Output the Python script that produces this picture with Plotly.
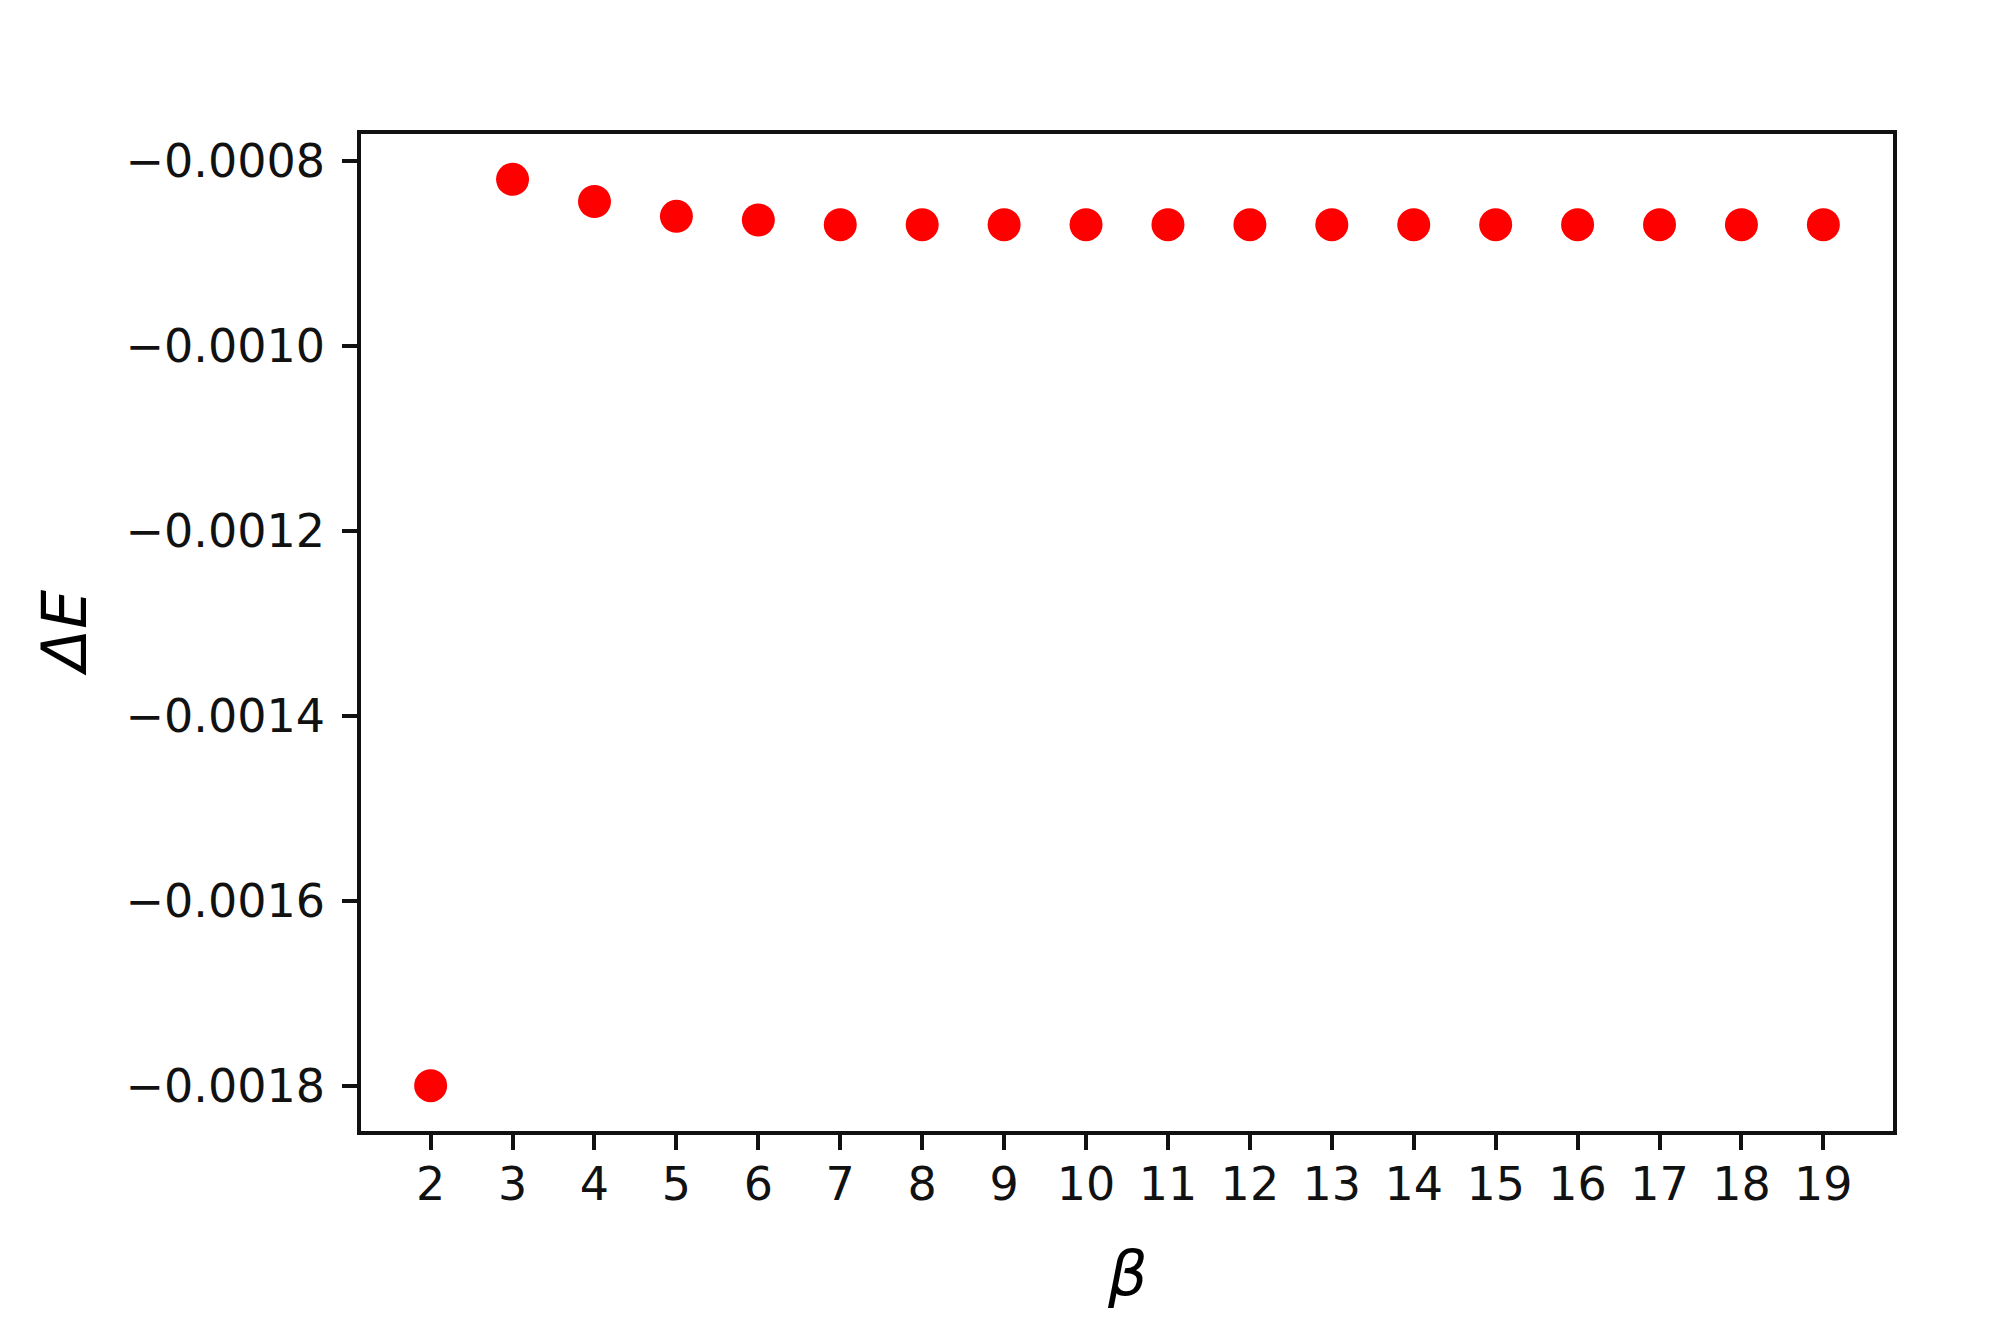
import plotly.graph_objects as go

# beta values and energy differences
beta = list(range(2, 20))
delta_e = [-0.00180, -0.000820, -0.000844, -0.000860, -0.000864,
           -0.000869, -0.000869, -0.000869, -0.000869, -0.000869,
           -0.000869, -0.000869, -0.000869, -0.000869, -0.000869,
           -0.000869, -0.000869, -0.000869]
y_ticks = [-0.0018, -0.0016, -0.0014, -0.0012, -0.0010, -0.0008]

fig = go.Figure()
fig.add_trace(go.Scatter(
    x=beta, y=delta_e, mode='markers',
    marker=dict(color='#ff0000', size=33, line=dict(width=0)),
    showlegend=False
))

axis_common = dict(
    showline=True, linecolor='#111', linewidth=3.5, mirror=True,
    ticks='outside', ticklen=15, tickwidth=3.5, tickcolor='#111',
    showgrid=False, zeroline=False,
    tickfont=dict(family='DejaVu Sans', size=46, color='#111'),
)

fig.update_xaxes(range=[1.15, 19.85], tickvals=beta,
                 ticklabelstandoff=-5, **axis_common)
fig.update_yaxes(range=[-0.001849, -0.000771], tickvals=y_ticks,
                 tickformat='.4f', ticklabelstandoff=8, **axis_common)

fig.add_annotation(text='<i>β</i>', xref='paper', yref='paper', x=0.5, y=0,
                   yanchor='middle', yshift=-142, showarrow=False,
                   font=dict(family='DejaVu Sans', size=62, color='#000'))
fig.add_annotation(text='<i>ΔE</i>', xref='paper', yref='paper', x=0, y=0.5,
                   xanchor='center', xshift=-297, textangle=-90, showarrow=False,
                   font=dict(family='DejaVu Sans', size=62, color='#000'))

fig.update_layout(
    width=2015, height=1344,
    margin=dict(l=353, r=130, t=126, b=221),
    paper_bgcolor='white', plot_bgcolor='white',
)

fig.write_html("out.html")
